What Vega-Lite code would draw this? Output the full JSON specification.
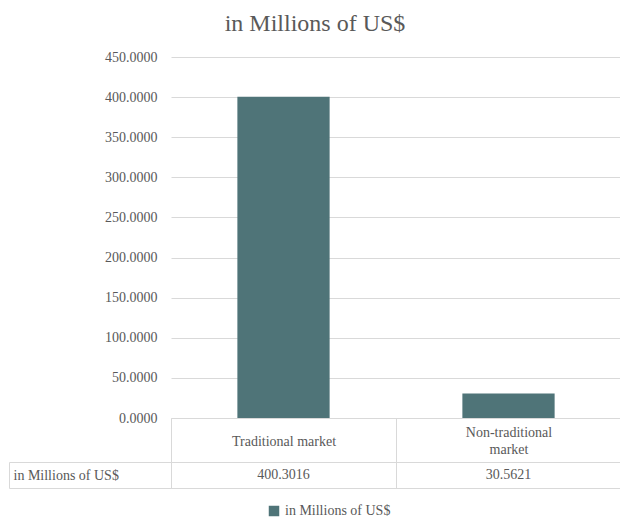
{
  "$schema": "https://vega.github.io/schema/vega-lite/v6.json",
  "padding": {"left": 8, "top": 12, "right": 0, "bottom": 2},
  "background": "white",
  "title": {"text": "in Millions of US$", "font": "Liberation Serif, serif", "fontSize": 24, "fontWeight": "normal", "color": "#595959", "anchor": "middle", "offset": 14},
  "spacing": 44,
  "bounds": "flush",
  "config": {
    "font": "Liberation Serif, serif",
    "view": {"stroke": null},
    "axis": {"labelFont": "Liberation Serif, serif", "labelColor": "#595959", "labelFontSize": 14, "titleFont": "Liberation Serif, serif"},
    "legend": {"labelFont": "Liberation Serif, serif"}
  },
  "datasets": {
    "rows": [
      {"market": "Traditional market", "value": 400.3016, "series": "in Millions of US$"},
      {"market": "Non-traditional market", "value": 30.5621, "series": "in Millions of US$"}
    ]
  },
  "vconcat": [
    {
      "width": 450,
      "height": 361,
      "data": {"name": "rows"},
      "mark": {"type": "bar", "width": {"band": 0.41}},
      "encoding": {
        "x": {
          "field": "market", "type": "nominal", "sort": null,
          "scale": {"paddingInner": 0, "paddingOuter": 0},
          "axis": {
            "title": null, "labelAngle": 0, "domainColor": "#d9d9d9", "tickColor": "#d9d9d9",
            "labelFont": "Liberation Serif, serif", "labelFontSize": 14, "labelColor": "#595959",
            "tickBand": "extent", "tickSize": 44, "labelBaseline": "middle",
            "labelPadding": {"condition": {"test": "datum.label == 'Non-traditional market'", "value": -30}, "value": -21},
            "labelLineHeight": 17,
            "labelExpr": "datum.label == 'Non-traditional market' ? ['Non-traditional', 'market'] : datum.label"
          }
        },
        "y": {
          "field": "value", "type": "quantitative",
          "scale": {"domain": [0, 450]},
          "axis": {
            "title": null, "values": [0, 50, 100, 150, 200, 250, 300, 350, 400, 450], "format": ".4f",
            "labelFont": "Liberation Serif, serif", "labelFontSize": 14, "labelColor": "#595959",
            "domain": false, "ticks": false, "labelPadding": 14, "gridColor": "#d9d9d9"
          }
        },
        "color": {
          "field": "series", "type": "nominal",
          "scale": {"range": ["#4f7478"]},
          "legend": {"title": null, "orient": "none", "legendX": 96, "legendY": 447, "direction": "horizontal", "symbolType": "square", "symbolSize": 110, "labelFont": "Liberation Serif, serif", "labelFontSize": 14, "labelColor": "#595959", "symbolStrokeWidth": 0}
        }
      }
    },
    {
      "width": 450,
      "height": 26,
      "data": {"name": "rows"},
      "layer": [
        {
          "mark": {"type": "text", "fontSize": 14, "color": "#595959", "font": "Liberation Serif, serif"},
          "encoding": {
            "x": {
              "field": "market", "type": "nominal", "sort": null,
              "scale": {"paddingInner": 0, "paddingOuter": 0},
              "axis": {"title": null, "labels": false, "ticks": false, "domain": true, "domainColor": "#d9d9d9", "grid": true, "gridColor": "#d9d9d9", "tickBand": "extent"}
            },
            "y": {
              "field": "series", "type": "nominal",
              "axis": {"title": null, "tickBand": "extent", "tickSize": 162, "tickColor": "#d9d9d9", "labelFont": "Liberation Serif, serif", "labelFontSize": 14, "labelColor": "#595959", "labelAlign": "left", "labelPadding": -4, "domain": true, "domainColor": "#d9d9d9", "grid": true, "gridColor": "#d9d9d9"}
            },
            "text": {"field": "value", "type": "quantitative", "format": ".4f"}
          }
        },
        {
          "mark": {"type": "text", "opacity": 0},
          "encoding": {
            "y": {
              "field": "series", "type": "nominal",
              "axis": {"title": null, "labels": false, "ticks": false, "domain": true, "domainColor": "#d9d9d9", "orient": "left", "offset": 162}
            },
            "text": {"field": "value", "type": "quantitative"}
          }
        }
      ],
      "resolve": {"axis": {"y": "independent"}}
    }
  ]
}
